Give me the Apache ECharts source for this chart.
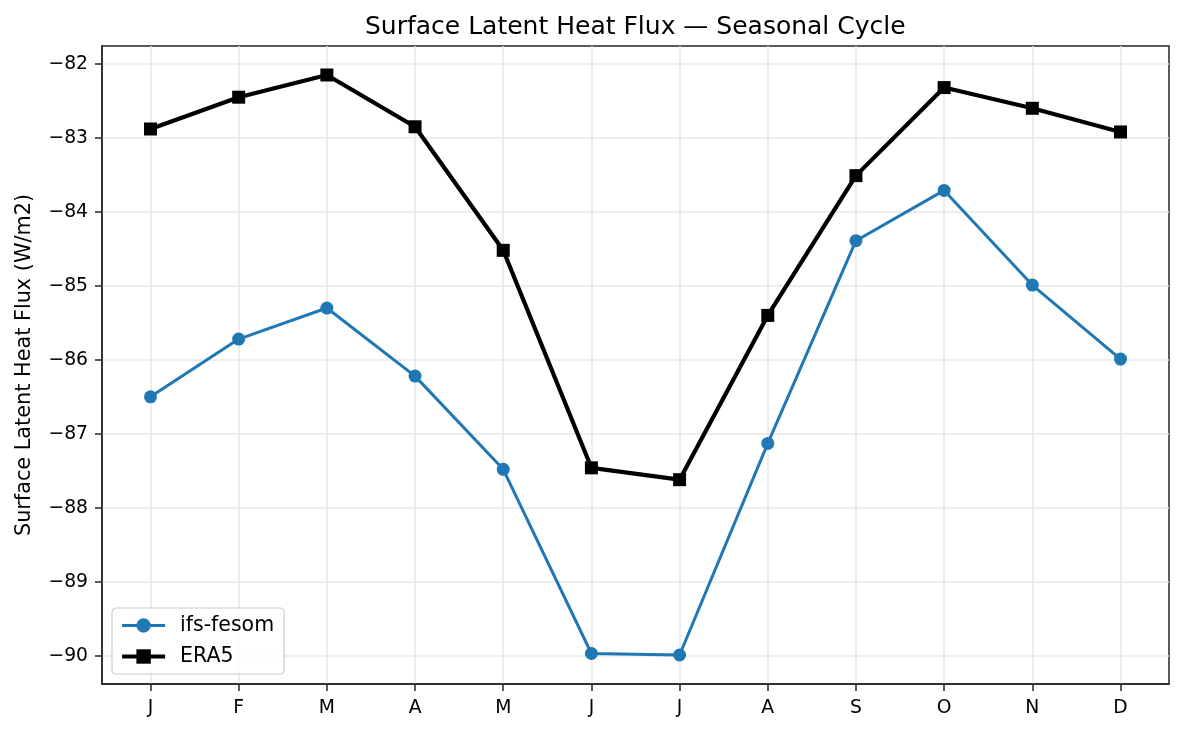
<!DOCTYPE html>
<html>
<head>
<meta charset="utf-8">
<script src="https://cdn.jsdelivr.net/npm/echarts@6/dist/echarts.min.js"></script>
<style>
  html, body { margin: 0; padding: 0; background: #fff; }
  #chart { width: 1183px; height: 735px; }
</style>
</head>
<body>
<div id="chart"></div>
<script>
const months = ['J', 'F', 'M', 'A', 'M', 'J', 'J', 'A', 'S', 'O', 'N', 'D'];
const ifsFesom = [-86.50, -85.72, -85.30, -86.22, -87.48, -89.97, -89.99, -87.13, -84.39, -83.71, -84.99, -85.99];
const era5 = [-82.88, -82.45, -82.15, -82.85, -84.52, -87.46, -87.62, -85.40, -83.51, -82.32, -82.60, -82.92];
const yTicks = [-90, -89, -88, -87, -86, -85, -84, -83, -82];
const xTicks = [0, 1, 2, 3, 4, 5, 6, 7, 8, 9, 10, 11];

// matplotlib-like 5% autoscale margins
const allVals = ifsFesom.concat(era5);
const dMin = Math.min.apply(null, allVals);
const dMax = Math.max.apply(null, allVals);
const yPad = 0.05 * (dMax - dMin);
const xPad = 0.05 * (months.length - 1);

const FONT = 'DejaVu Sans';
const fmtNum = v => (v < 0 ? '\u2212' : '') + Math.abs(v);

const chart = echarts.init(document.getElementById('chart'), null, { renderer: 'canvas' });
chart.setOption({
  backgroundColor: '#ffffff',
  animation: false,
  textStyle: { fontFamily: FONT },
  title: {
    text: 'Surface Latent Heat Flux \u2014 Seasonal Cycle',
    left: 365,
    top: 15,
    padding: 0,
    textStyle: { fontFamily: FONT, fontSize: 25, fontWeight: 'normal', color: '#000' }
  },
  grid: {
    left: 102, right: 14, top: 46, bottom: 51,
    show: true, borderColor: '#262626', borderWidth: 1.5, backgroundColor: 'transparent'
  },
  legend: {
    orient: 'vertical',
    left: 112,
    top: 608,
    padding: [7, 10, 7, 8],
    itemWidth: 43,
    itemHeight: 18,
    itemGap: 10,
    backgroundColor: 'rgba(255,255,255,0.8)',
    borderColor: '#cccccc',
    borderWidth: 1.2,
    borderRadius: 4,
    formatter: n => '{g|}' + n,
    textStyle: {
      fontFamily: FONT, fontSize: 20.5, color: '#000',
      rich: { g: { width: 10 } }
    },
    data: [
      { name: 'ifs-fesom', lineStyle: { width: 3, color: '#1f77b4' }, itemStyle: { color: '#1f77b4' } },
      { name: 'ERA5', lineStyle: { width: 4.2, color: '#000' }, itemStyle: { color: '#000' } }
    ]
  },
  xAxis: {
    type: 'value',
    min: -xPad,
    max: months.length - 1 + xPad,
    minInterval: 1,
    maxInterval: 1,
    axisLine: { show: true, onZero: false, lineStyle: { color: '#262626', width: 1.5 } },
    axisTick: { show: true, length: 7, customValues: xTicks, lineStyle: { color: '#262626', width: 1.5 } },
    axisLabel: {
      customValues: xTicks,
      margin: 15,
      fontFamily: FONT, fontSize: 18.75, color: '#000',
      formatter: v => (Number.isInteger(v) && v >= 0 && v < months.length) ? months[v] : ''
    },
    splitLine: { show: true, lineStyle: { color: '#e7e7e7', width: 1.5 } }
  },
  yAxis: {
    type: 'value',
    min: dMin - yPad,
    max: dMax + yPad,
    minInterval: 1,
    maxInterval: 1,
    name: 'Surface Latent Heat Flux (W/m2)',
    nameLocation: 'middle',
    nameGap: 67,
    nameTextStyle: { fontFamily: FONT, fontSize: 20.8, color: '#000' },
    axisLine: { show: true, onZero: false, lineStyle: { color: '#262626', width: 1.5 } },
    axisTick: { show: true, length: 7, customValues: yTicks, lineStyle: { color: '#262626', width: 1.5 } },
    axisLabel: {
      customValues: yTicks,
      margin: 14,
      fontFamily: FONT, fontSize: 18.75, color: '#000',
      formatter: v => Number.isInteger(v) ? fmtNum(v) : ''
    },
    splitLine: { show: true, lineStyle: { color: '#e7e7e7', width: 1.5 } }
  },
  series: [
    {
      name: 'ifs-fesom',
      type: 'line',
      data: ifsFesom.map((v, i) => [i, v]),
      symbol: 'circle',
      symbolSize: 13,
      lineStyle: { color: '#1f77b4', width: 3 },
      itemStyle: { color: '#1f77b4' },
      z: 3
    },
    {
      name: 'ERA5',
      type: 'line',
      data: era5.map((v, i) => [i, v]),
      symbol: 'rect',
      symbolSize: 13,
      lineStyle: { color: '#000000', width: 4.2 },
      itemStyle: { color: '#000000' },
      z: 4
    }
  ]
});
</script>
</body>
</html>
